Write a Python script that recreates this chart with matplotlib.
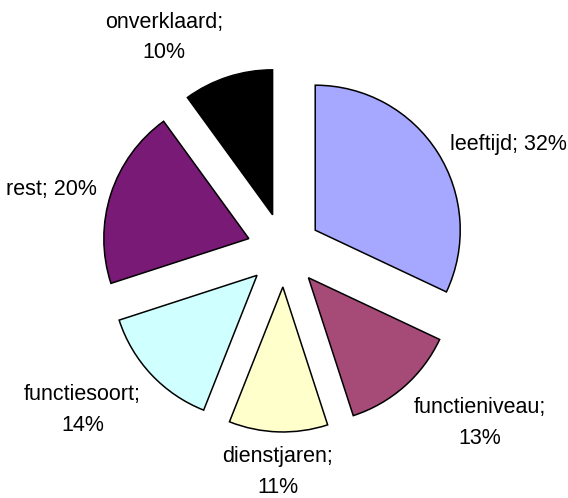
import numpy as np
import matplotlib.pyplot as plt

# gegevens uit de grafiek
categorieen = ["leeftijd", "functieniveau", "dienstjaren", "functiesoort", "rest", "onverklaard"]
percentages = [32, 13, 11, 14, 20, 10]
labels = ["leeftijd; 32%", "functieniveau;\n13%", "dienstjaren;\n11%",
          "functiesoort;\n14%", "rest; 20%", "onverklaard;\n10%"]
kleuren = ["#A6A8FF", "#A64B78", "#FFFFCC", "#D0FFFF", "#781A76", "#000000"]

plt.rcParams['font.family'] = ['Liberation Sans', 'DejaVu Sans']

fig = plt.figure(figsize=(5.68, 4.98), dpi=100)
ax = fig.add_axes([0, 0, 1, 1])

wedges, texts = ax.pie(percentages, labels=labels, colors=kleuren,
                       explode=[0.255] * len(percentages), startangle=90,
                       counterclock=False, labeldistance=1.1,
                       wedgeprops=dict(edgecolor="black", linewidth=1.1),
                       textprops=dict(fontsize=15.5, linespacing=1.6))

# uitlijning van de labels zoals in Excel
for w, t in zip(wedges, texts):
    hoek = np.deg2rad((w.theta1 + w.theta2) / 2)
    c, s = np.cos(hoek), np.sin(hoek)
    if abs(c) < 0.3:
        t.set_ha("center")
    else:
        t.set_ha("left" if c > 0 else "right")
    if s > 0.6:
        t.set_va("bottom")
    elif s < -0.6:
        t.set_va("top")
    else:
        t.set_va("center")
    t.set_multialignment("center")

# 1 eenheid = straal van ca. 145 px, middelpunt op (284, 250)
ax.set_aspect("auto")
ax.set_xlim(-284 / 145, 284 / 145)
ax.set_ylim(-248 / 145, 250 / 145)
ax.axis("off")

fig.savefig("out.png", dpi=100)
